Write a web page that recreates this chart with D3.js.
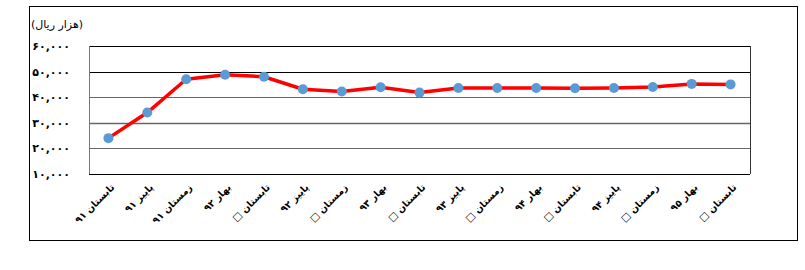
<!DOCTYPE html>
<html>
<head>
<meta charset="utf-8">
<script src="https://cdn.jsdelivr.net/npm/d3@7"></script>
<style>
  body { margin: 0; background: #fff; }
  text { font-family: "DejaVu Sans", Tahoma, sans-serif; }
</style>
</head>
<body>
<script>
const width = 805;
const height = 270;

// categories (quarters), box glyph kept as shown in the source image
const categories = [
  'تابستان ۹۱', 'پاییز ۹۱', 'زمستان ۹۱', 'بهار ۹۲', 'تابستان □',
  'پاییز ۹۲', 'زمستان □', 'بهار ۹۳', 'تابستان □', 'پاییز ۹۳',
  'زمستان □', 'بهار ۹۴', 'تابستان □', 'پاییز ۹۴', 'زمستان □',
  'بهار ۹۵', 'تابستان □'
];
const values = [
  24000, 34000, 47000, 48800, 48000, 43100, 42200, 43900, 41800,
  43600, 43600, 43600, 43500, 43600, 44000, 45200, 45000
];
const yTicks = [10000, 20000, 30000, 40000, 50000, 60000];
const unitLabel = '(هزار ریال)';

const plot = {left: 89, right: 750, top: 46, bottom: 174};

const faDigits = '۰۱۲۳۴۵۶۷۸۹';
function toFa(s) {
  return s.replace(/[0-9]/g, d => faDigits[+d]);
}

const svg = d3.select('body')
  .append('svg')
  .attr('width', width)
  .attr('height', height);

// outer frame
svg.append('rect')
  .attr('x', 29.5).attr('y', 6.5)
  .attr('width', 768).attr('height', 234)
  .attr('fill', 'none')
  .attr('stroke', '#000')
  .attr('stroke-width', 1);

// labels repeat (boxes), so use the index as domain
const x = d3.scalePoint()
  .domain(d3.range(categories.length))
  .range([plot.left, plot.right])
  .padding(0.5);

const y = d3.scaleLinear()
  .domain([10000, 60000])
  .range([plot.bottom, plot.top]);

// gridlines
svg.append('g')
  .attr('class', 'grid')
  .selectAll('line')
  .data(yTicks)
  .enter()
  .append('line')
  .attr('x1', plot.left)
  .attr('x2', plot.right)
  .attr('y1', d => Math.round(y(d)) + 0.5)
  .attr('y2', d => Math.round(y(d)) + 0.5)
  .attr('stroke', d => (d >= 50000 || d === 10000) ? '#000' : '#666')
  .attr('stroke-width', d => d === 30000 ? 1.5 : 1);

// plot side borders
svg.append('line')
  .attr('x1', plot.left + 0.5).attr('x2', plot.left + 0.5)
  .attr('y1', plot.top).attr('y2', plot.bottom)
  .attr('stroke', '#777');
svg.append('line')
  .attr('x1', plot.right + 0.5).attr('x2', plot.right + 0.5)
  .attr('y1', plot.top).attr('y2', plot.bottom)
  .attr('stroke', '#333');

// y axis labels
const yAxis = d3.axisLeft(y)
  .tickValues(yTicks)
  .tickSize(0)
  .tickPadding(0)
  .tickFormat(d => toFa(d3.format(',')(d)));

svg.append('g')
  .attr('transform', 'translate(70,0)')
  .call(yAxis)
  .call(g => g.select('.domain').remove())
  .selectAll('text')
  .attr('font-size', 11)
  .attr('font-weight', 'bold')
  .attr('fill', '#000');

// unit label
svg.append('text')
  .attr('x', 83)
  .attr('y', 28)
  .attr('text-anchor', 'end')
  .attr('font-size', 11)
  .text(unitLabel);

// x axis labels
const xAxis = d3.axisBottom(x)
  .tickSize(0)
  .tickPadding(0)
  .tickFormat(i => categories[i]);

svg.append('g')
  .attr('transform', `translate(0,${plot.bottom})`)
  .call(xAxis)
  .call(g => g.select('.domain').remove())
  .selectAll('text')
  .attr('font-size', 9.5)
  .attr('font-weight', 'bold')
  .attr('fill', '#000')
  .attr('direction', 'rtl')
  .attr('text-anchor', 'start')
  .attr('dy', 0)
  .attr('transform', 'translate(6,14) rotate(-45)');

// line
const line = d3.line()
  .x((d, i) => x(i))
  .y(d => y(d));

svg.append('path')
  .datum(values)
  .attr('d', line)
  .attr('fill', 'none')
  .attr('stroke', '#ff0000')
  .attr('stroke-width', 3.5)
  .attr('stroke-linejoin', 'round');

// markers
svg.append('g')
  .selectAll('circle')
  .data(values)
  .enter()
  .append('circle')
  .attr('cx', (d, i) => x(i))
  .attr('cy', d => y(d))
  .attr('r', 5)
  .attr('fill', '#5b9bd5');
</script>
</body>
</html>
